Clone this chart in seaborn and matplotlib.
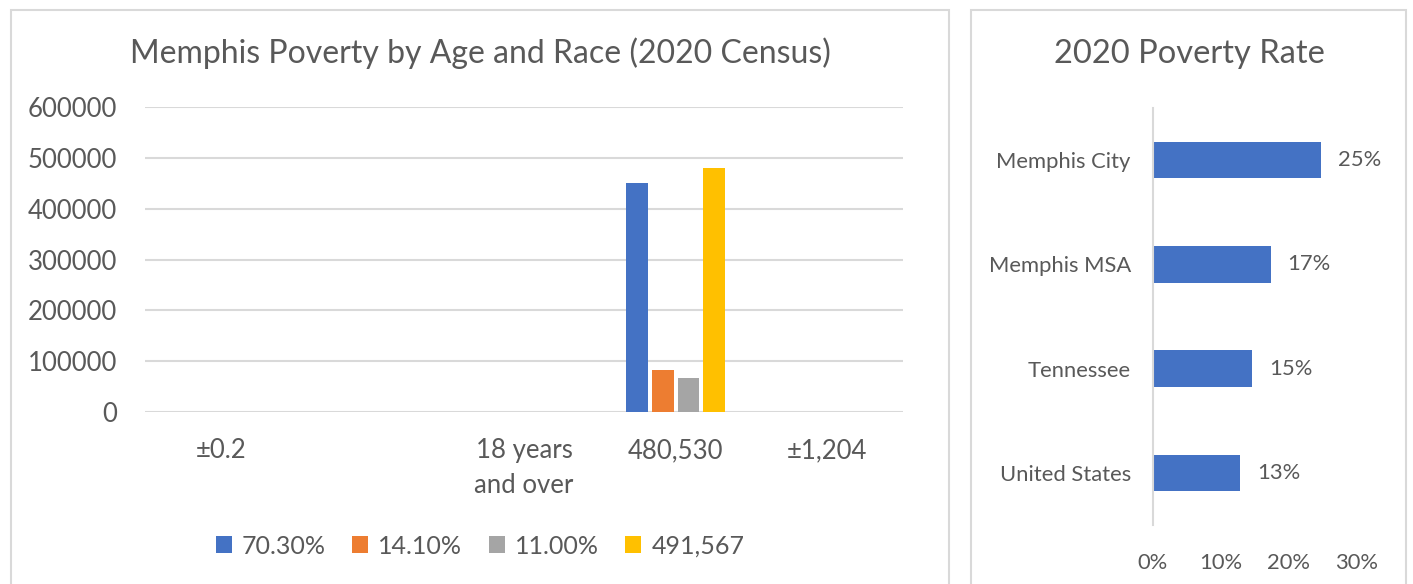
import numpy as np
import pandas as pd
import matplotlib.pyplot as plt
import seaborn as sns
from matplotlib.patches import Rectangle
from matplotlib.ticker import PercentFormatter

# 左图数据 (Excel 原表的类别/系列名就是这些奇怪的字符串)
age_groups = ['±0.2', ' ', '18 years\nand over', '480,530', '±1,204']
series_names = ['70.30%', '14.10%', '11.00%', '491,567']
series_values = [
    [0, 0, 0, 450000, 0],
    [0, 0, 0, 83000, 0],
    [0, 0, 0, 67500, 0],
    [0, 0, 0, 480530, 0],
]
series_colors = ['#4472C4', '#ED7D31', '#A5A5A5', '#FFC000']

# 右图数据
areas = ['Memphis City', 'Memphis MSA', 'Tennessee', 'United States']
poverty_rate = [0.247, 0.173, 0.146, 0.128]

TEXT = '#595959'
GRID = '#D9D9D9'

sns.set_theme(style='white')
plt.rcParams['font.family'] = ['Lato', 'DejaVu Sans']
plt.rcParams['text.color'] = TEXT
plt.rcParams['xtick.color'] = TEXT
plt.rcParams['ytick.color'] = TEXT

fig = plt.figure(figsize=(14.13, 5.84), dpi=100)
W, H = 1413, 584

# 外框
fig.patches.append(Rectangle((11 / W, -0.05), (949 - 11) / W, (584 - 10) / H + 0.05,
                             transform=fig.transFigure, fill=False, ec=GRID, lw=1.5))
fig.patches.append(Rectangle((971 / W, -0.05), (1406 - 971) / W, (584 - 10) / H + 0.05,
                             transform=fig.transFigure, fill=False, ec=GRID, lw=1.5))

# ---------- 左图 ----------
ax1 = fig.add_axes([145 / W, 1 - 412 / H, (903 - 145) / W, (412 - 107) / H])
rows = []
for name, vals in zip(series_names, series_values):
    for cat, v in zip(age_groups, vals):
        rows.append({'group': cat, 'series': name, 'count': v})
df = pd.DataFrame(rows)

sns.barplot(data=df, x='group', y='count', hue='series', order=age_groups,
            hue_order=series_names, palette=series_colors, width=0.68, gap=0.15,
            linewidth=0, saturation=1, ax=ax1)
ax1.set_ylim(0, 600000)
ax1.set_yticks(np.arange(0, 600001, 100000))
ax1.yaxis.grid(True, color=GRID, lw=1.5)
ax1.set_axisbelow(True)
for s in ax1.spines.values():
    s.set_visible(False)
ax1.set_xlabel('')
ax1.set_ylabel('')
ax1.tick_params(axis='y', labelsize=18.5, pad=20, length=0)
ax1.tick_params(axis='x', labelsize=18.5, pad=19, length=0)
for lab in ax1.get_xticklabels():
    lab.set_verticalalignment('top')
    lab.set_linespacing(1.5)

ax1.legend(loc='center', bbox_to_anchor=(480 / W, 1 - 546 / H), bbox_transform=fig.transFigure,
           ncol=4, frameon=False, fontsize=18, handlelength=0.65, handleheight=0.65,
           handletextpad=0.4, columnspacing=1.05)

fig.text(480 / W, 1 - 53 / H, 'Memphis Poverty by Age and Race (2020 Census)',
         ha='center', va='center', fontsize=23, color=TEXT)

# ---------- 右图 ----------
ax2 = fig.add_axes([1153 / W, 1 - 525 / H, (1357 - 1153) / W, (525 - 108) / H])
sns.barplot(x=poverty_rate, y=areas, orient='h', color='#4472C4', width=0.35,
            saturation=1, linewidth=0, ax=ax2)
ax2.set_xlim(0, 0.3)
ax2.set_xticks([0, 0.1, 0.2, 0.3])
ax2.xaxis.set_major_formatter(PercentFormatter(1.0, decimals=0))
for k, s in ax2.spines.items():
    s.set_visible(k == 'left')
ax2.spines['left'].set_color(GRID)
ax2.spines['left'].set_linewidth(1.5)
ax2.tick_params(axis='y', labelsize=15.8, pad=16, length=0)
ax2.tick_params(axis='x', labelsize=15.8, pad=20, length=0)
ax2.bar_label(ax2.containers[0], labels=['{:.0%}'.format(v) for v in poverty_rate],
              padding=12, fontsize=15.8, color=TEXT)

fig.text(1189 / W, 1 - 54 / H, '2020 Poverty Rate', ha='center', va='center',
         fontsize=23.5, color=TEXT)

plt.savefig('out.png', dpi=100)
